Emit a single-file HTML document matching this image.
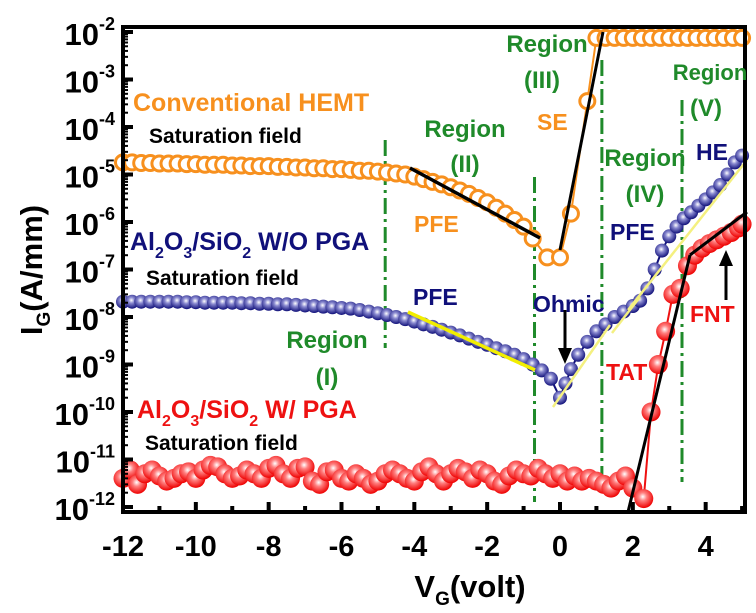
<!DOCTYPE html>
<html><head><meta charset="utf-8"><style>
html,body{margin:0;padding:0;background:#fff;}
svg{display:block;font-family:"Liberation Sans",Arial,sans-serif;font-weight:bold;}
</style></head><body>
<svg id="chart" width="756" height="613" viewBox="0 0 756 613">
<defs>
<radialGradient id="gb" cx="0.45" cy="0.4" r="0.6"><stop offset="0" stop-color="#ffffff"/><stop offset="0.35" stop-color="#8a8ad0"/><stop offset="1" stop-color="#10107a"/></radialGradient>
<radialGradient id="gr" cx="0.45" cy="0.4" r="0.6"><stop offset="0" stop-color="#ffffff"/><stop offset="0.35" stop-color="#ff8080"/><stop offset="1" stop-color="#ee0000"/></radialGradient>
</defs>
<g id="marks"></g>
<g id="axes"></g>
</svg>
<script>
const xTicks=[-12,-10,-8,-6,-4,-2,0,2,4];
const yExps=[-2,-3,-4,-5,-6,-7,-8,-9,-10,-11,-12];
const regionX=[-4.8,-0.7,1.15,3.35];
const hemtV=[-12,-11.75,-11.5,-11.25,-11,-10.75,-10.5,-10.25,-10,-9.75,-9.5,-9.25,-9,-8.75,-8.5,-8.25,-8,-7.75,-7.5,-7.25,-7,-6.75,-6.5,-6.25,-6,-5.75,-5.5,-5.25,-5,-4.75,-4.5,-4.25,-4,-3.75,-3.5,-3.25,-3,-2.75,-2.5,-2.25,-2,-1.75,-1.5,-1.25,-1,-0.75,-0.35,0,0.3,0.75,1.0,1.25,1.5,1.75,2,2.25,2.5,2.75,3,3.25,3.5,3.75,4,4.25,4.5,4.75,5];
const hemtI=[1.8e-5,1.8e-5,1.75e-5,1.75e-5,1.7e-5,1.7e-5,1.7e-5,1.65e-5,1.65e-5,1.6e-5,1.6e-5,1.6e-5,1.55e-5,1.55e-5,1.5e-5,1.5e-5,1.5e-5,1.45e-5,1.45e-5,1.4e-5,1.4e-5,1.35e-5,1.35e-5,1.3e-5,1.3e-5,1.25e-5,1.2e-5,1.2e-5,1.15e-5,1.1e-5,1.05e-5,1.0e-5,9e-6,8e-6,7e-6,6.2e-6,5.4e-6,4.6e-6,3.9e-6,3.2e-6,2.6e-6,2.0e-6,1.5e-6,1.1e-6,8e-7,4.5e-7,1.8e-7,1.8e-7,1.5e-6,3.5e-4,7.5e-3,7.5e-3,7.5e-3,7.5e-3,7.5e-3,7.5e-3,7.5e-3,7.5e-3,7.5e-3,7.5e-3,7.5e-3,7.5e-3,7.5e-3,7.5e-3,7.5e-3,7.5e-3,7.5e-3];
const woV=[-12,-11.75,-11.5,-11.25,-11,-10.75,-10.5,-10.25,-10,-9.75,-9.5,-9.25,-9,-8.75,-8.5,-8.25,-8,-7.75,-7.5,-7.25,-7,-6.75,-6.5,-6.25,-6,-5.75,-5.5,-5.25,-5,-4.75,-4.5,-4.25,-4,-3.75,-3.5,-3.25,-3,-2.75,-2.5,-2.25,-2,-1.75,-1.5,-1.25,-1,-0.75,-0.5,-0.25,0,0.15,0.3,0.5,0.75,1.0,1.25,1.5,1.75,2,2.2,2.4,2.6,2.8,3.0,3.2,3.4,3.6,3.8,4.0,4.2,4.4,4.6,4.8,5.0];
const woI=[2.1e-8,2.1e-8,2.1e-8,2.1e-8,2.1e-8,2.1e-8,2.1e-8,2.05e-8,2.05e-8,2.0e-8,2.0e-8,2.0e-8,2.0e-8,1.95e-8,1.95e-8,1.9e-8,1.9e-8,1.85e-8,1.85e-8,1.8e-8,1.75e-8,1.7e-8,1.65e-8,1.6e-8,1.55e-8,1.5e-8,1.4e-8,1.3e-8,1.2e-8,1.1e-8,1.0e-8,9e-9,8e-9,7e-9,6.2e-9,5.4e-9,4.7e-9,4.1e-9,3.5e-9,3.0e-9,2.6e-9,2.2e-9,1.9e-9,1.6e-9,1.3e-9,1.0e-9,7.5e-10,5e-10,2e-10,4e-10,8e-10,1.6e-9,3e-9,5e-9,7e-9,1e-8,1.3e-8,1.7e-8,2.2e-8,4e-8,1e-7,2.5e-7,5e-7,8e-7,1.2e-6,1.6e-6,2.2e-6,3e-6,4.2e-6,6e-6,1e-5,1.8e-5,2.5e-5];
const wV=[-12,-11.8,-11.6,-11.4,-11.2,-11,-10.8,-10.6,-10.4,-10.2,-10,-9.8,-9.6,-9.4,-9.2,-9,-8.8,-8.6,-8.4,-8.2,-8,-7.8,-7.6,-7.4,-7.2,-7,-6.8,-6.6,-6.4,-6.2,-6,-5.8,-5.6,-5.4,-5.2,-5,-4.8,-4.6,-4.4,-4.2,-4,-3.8,-3.6,-3.4,-3.2,-3,-2.8,-2.6,-2.4,-2.2,-2,-1.8,-1.6,-1.4,-1.2,-1,-0.8,-0.6,-0.4,-0.2,0,0.2,0.4,0.6,0.8,1.0,1.2,1.4,1.6,1.8,2.0,2.3,2.5,2.7,2.9,3.1,3.3,3.5,3.7,3.9,4.1,4.3,4.5,4.7,4.9,5.0];
const wI=[4e-12,6e-12,3e-12,5e-12,6e-12,4.5e-12,3.5e-12,4e-12,5e-12,5.5e-12,4e-12,6e-12,7.5e-12,7e-12,5e-12,4e-12,4.5e-12,6e-12,5e-12,4e-12,6.5e-12,7.5e-12,5e-12,4e-12,6.5e-12,7e-12,3.5e-12,3e-12,5.5e-12,6e-12,4e-12,3.5e-12,5e-12,4e-12,3e-12,3.5e-12,5e-12,6e-12,5e-12,4e-12,3.5e-12,5.5e-12,7e-12,5e-12,3.5e-12,5e-12,6.5e-12,5.5e-12,4e-12,6e-12,5e-12,3.5e-12,3e-12,4.5e-12,6e-12,5e-12,4.5e-12,6.5e-12,5e-12,4e-12,5e-12,3.5e-12,4.5e-12,3.5e-12,4e-12,3.5e-12,3e-12,2.5e-12,3.5e-12,4.5e-12,2.5e-12,1.5e-12,1e-10,1e-9,5e-9,3e-8,4e-8,1.2e-7,2e-7,2.8e-7,3.5e-7,4.2e-7,5e-7,6e-7,7.5e-7,9e-7];

const NS='http://www.w3.org/2000/svg';
const X0=123,X1=745,Y0=27,Y1=512;
const xmin=-12,xmax=5.08;
function sx(v){return X0+(v-xmin)/(xmax-xmin)*(X1-X0);}
function sy(i){return 32+(-2-Math.log10(i))*47.5;}
function mk(tag,attrs,parent,text){const e=document.createElementNS(NS,tag);for(const k in attrs)e.setAttribute(k,attrs[k]);if(text!==undefined)e.textContent=text;parent.appendChild(e);return e;}
const marks=document.getElementById('marks'),axes=document.getElementById('axes');

const regY=[[140,348],[177,502],[60,483],[100,482]];
regionX.forEach((v,k)=>{const l=mk('line',{x1:sx(v),x2:sx(v),y1:regY[k][0],y2:regY[k][1],stroke:'#1f8a2a','stroke-width':3,'stroke-dasharray':'16 5 3 5'},marks);

});

function series(V,I,name,color,r,fill,sw){
  const g=mk('g',{},marks);
  
  
  const pts=V.map((v,k)=>sx(v)+','+sy(I[k])).join(' ');
  mk('polyline',{points:pts,fill:'none',stroke:color,'stroke-width':2},g);
  V.forEach((v,k)=>{const c=mk('circle',{cx:sx(v),cy:sy(I[k]),r:r,fill:fill,stroke:sw?color:'none','stroke-width':sw||0},g);
  
  });
}
series(wV,wI,'series-w-pga','#ee1111',9.5,'url(#gr)',0);
series(woV,woI,'series-wo-pga','#10107a',7,'url(#gb)',0);
series(hemtV,hemtI,'series-conventional-hemt','#f7901e',7.5,'#fff',3);

const fits=[[410,168,540,238,'#000',3.5],[560,250,603,32,'#000',3],[408,312,535,370,'#f2ee00',3.5],[553,407,610,325,'#f4f080',2.5],[612,333,640,297,'#f4f080',2.5],[628,310,747,160,'#f4f080',2.5],[628,512,690,255,'#000',3],[690,255,747,212,'#000',3]];
fits.forEach(f=>{const l=mk('line',{x1:f[0],y1:f[1],x2:f[2],y2:f[3],stroke:f[4],'stroke-width':f[5]},marks);

});

const ar1=mk('g',{},marks);
mk('line',{x1:565,y1:310,x2:565,y2:352,stroke:'#000','stroke-width':3},ar1);
mk('polygon',{points:'558,348 572,348 565,364',fill:'#000'},ar1);
const ar2=mk('g',{},marks);
mk('line',{x1:726,y1:300,x2:726,y2:262,stroke:'#000','stroke-width':3},ar2);
mk('polygon',{points:'719,266 733,266 726,250',fill:'#000'},ar2);

const fr=mk('rect',{x:X0,y:Y0,width:X1-X0,height:Y1-Y0,fill:'none',stroke:'#000','stroke-width':4},axes);

for(let v=-12;v<=5;v++){const major=xTicks.includes(v);
 const t=mk('line',{x1:sx(v),x2:sx(v),y1:Y1,y2:Y1-(major?10:6),stroke:'#000','stroke-width':4},axes);
 }
xTicks.forEach(v=>{const t=mk('text',{x:sx(v),y:556,'text-anchor':'middle','font-size':29},axes,(v<0?'-':'')+Math.abs(v));
 });
yExps.forEach(e=>{const y=sy(Math.pow(10,e));
 const t=mk('line',{x1:X0,x2:X0+10,y1:y,y2:y,stroke:'#000','stroke-width':4},axes);
 
 if(e<-2){for(let m=2;m<10;m++){const ym=sy(m*Math.pow(10,e));const mt=mk('line',{x1:X0,x2:X0+5,y1:ym,y2:ym,stroke:'#000','stroke-width':2},axes);
 }}
 const lab=mk('text',{x:X0-8,y:y+13,'text-anchor':'end','font-size':31},axes);
 
 mk('tspan',{},lab,'10');mk('tspan',{dy:-15,'font-size':18},lab,String(e));});

const xt=mk('text',{x:470,y:597,'text-anchor':'middle','font-size':31},axes);

mk('tspan',{},xt,'V');mk('tspan',{dy:8,'font-size':19},xt,'G');mk('tspan',{dy:-8},xt,'(volt)');
const yt=mk('text',{x:0,y:0,'text-anchor':'middle','font-size':31,transform:'translate(42,270) rotate(-90)'},axes);

mk('tspan',{},yt,'I');mk('tspan',{dy:8,'font-size':19},yt,'G');mk('tspan',{dy:-8},yt,'(A/mm)');

function ann(x,y,txt,color,size,name,anchor){const t=mk('text',{x:x,y:y,fill:color,'font-size':size,'text-anchor':anchor||'start'},axes,txt);
 return t;}
ann(133,111,'Conventional HEMT','#f7901e',25,'label-conventional-hemt');
ann(149,143,'Saturation field','#000',21,'label-saturation-field');
ann(146,285,'Saturation field','#000',21,'label-saturation-field');
ann(145,450,'Saturation field','#000',21,'label-saturation-field');
function chem(x,y,color,tail,name){const t=mk('text',{x:x,y:y,fill:color,'font-size':25},axes);
 
 mk('tspan',{},t,'Al');mk('tspan',{dy:8,'font-size':16},t,'2');mk('tspan',{dy:-8},t,'O');mk('tspan',{dy:8,'font-size':16},t,'3');
 mk('tspan',{dy:-8},t,'/SiO');mk('tspan',{dy:8,'font-size':16},t,'2');mk('tspan',{dy:-8},t,tail);}
chem(130,250,'#10107a',' W/O PGA','label-wo-pga');
chem(137,418,'#ee1111',' W/ PGA','label-w-pga');
const G='#1f8a2a';
ann(327,348,'Region',G,24,'label-region-1','middle');ann(327,385,'(I)',G,24,'label-region-1','middle');
ann(465,137,'Region',G,24,'label-region-2','middle');ann(465,172,'(II)',G,24,'label-region-2','middle');
ann(547,52,'Region',G,24,'label-region-3','middle');ann(542,88,'(III)',G,24,'label-region-3','middle');
ann(645,166,'Region',G,24,'label-region-4','middle');ann(645,202,'(IV)',G,24,'label-region-4','middle');
ann(710,80,'Region',G,22,'label-region-5','middle');ann(706,116,'(V)',G,24,'label-region-5','middle');
ann(414,232,'PFE','#f7901e',23,'label-pfe-hemt');
ann(537,130,'SE','#f7901e',23,'label-se');
ann(413,305,'PFE','#10107a',23,'label-pfe-wo');
ann(610,240,'PFE','#10107a',23,'label-pfe-wo-2');
ann(533,312,'Ohmic','#10107a',23,'label-ohmic');
ann(696,160,'HE','#10107a',23,'label-he');
ann(606,380,'TAT','#ee1111',23,'label-tat');
ann(690,322,'FNT','#ee1111',23,'label-fnt');
</script>
</body></html>
